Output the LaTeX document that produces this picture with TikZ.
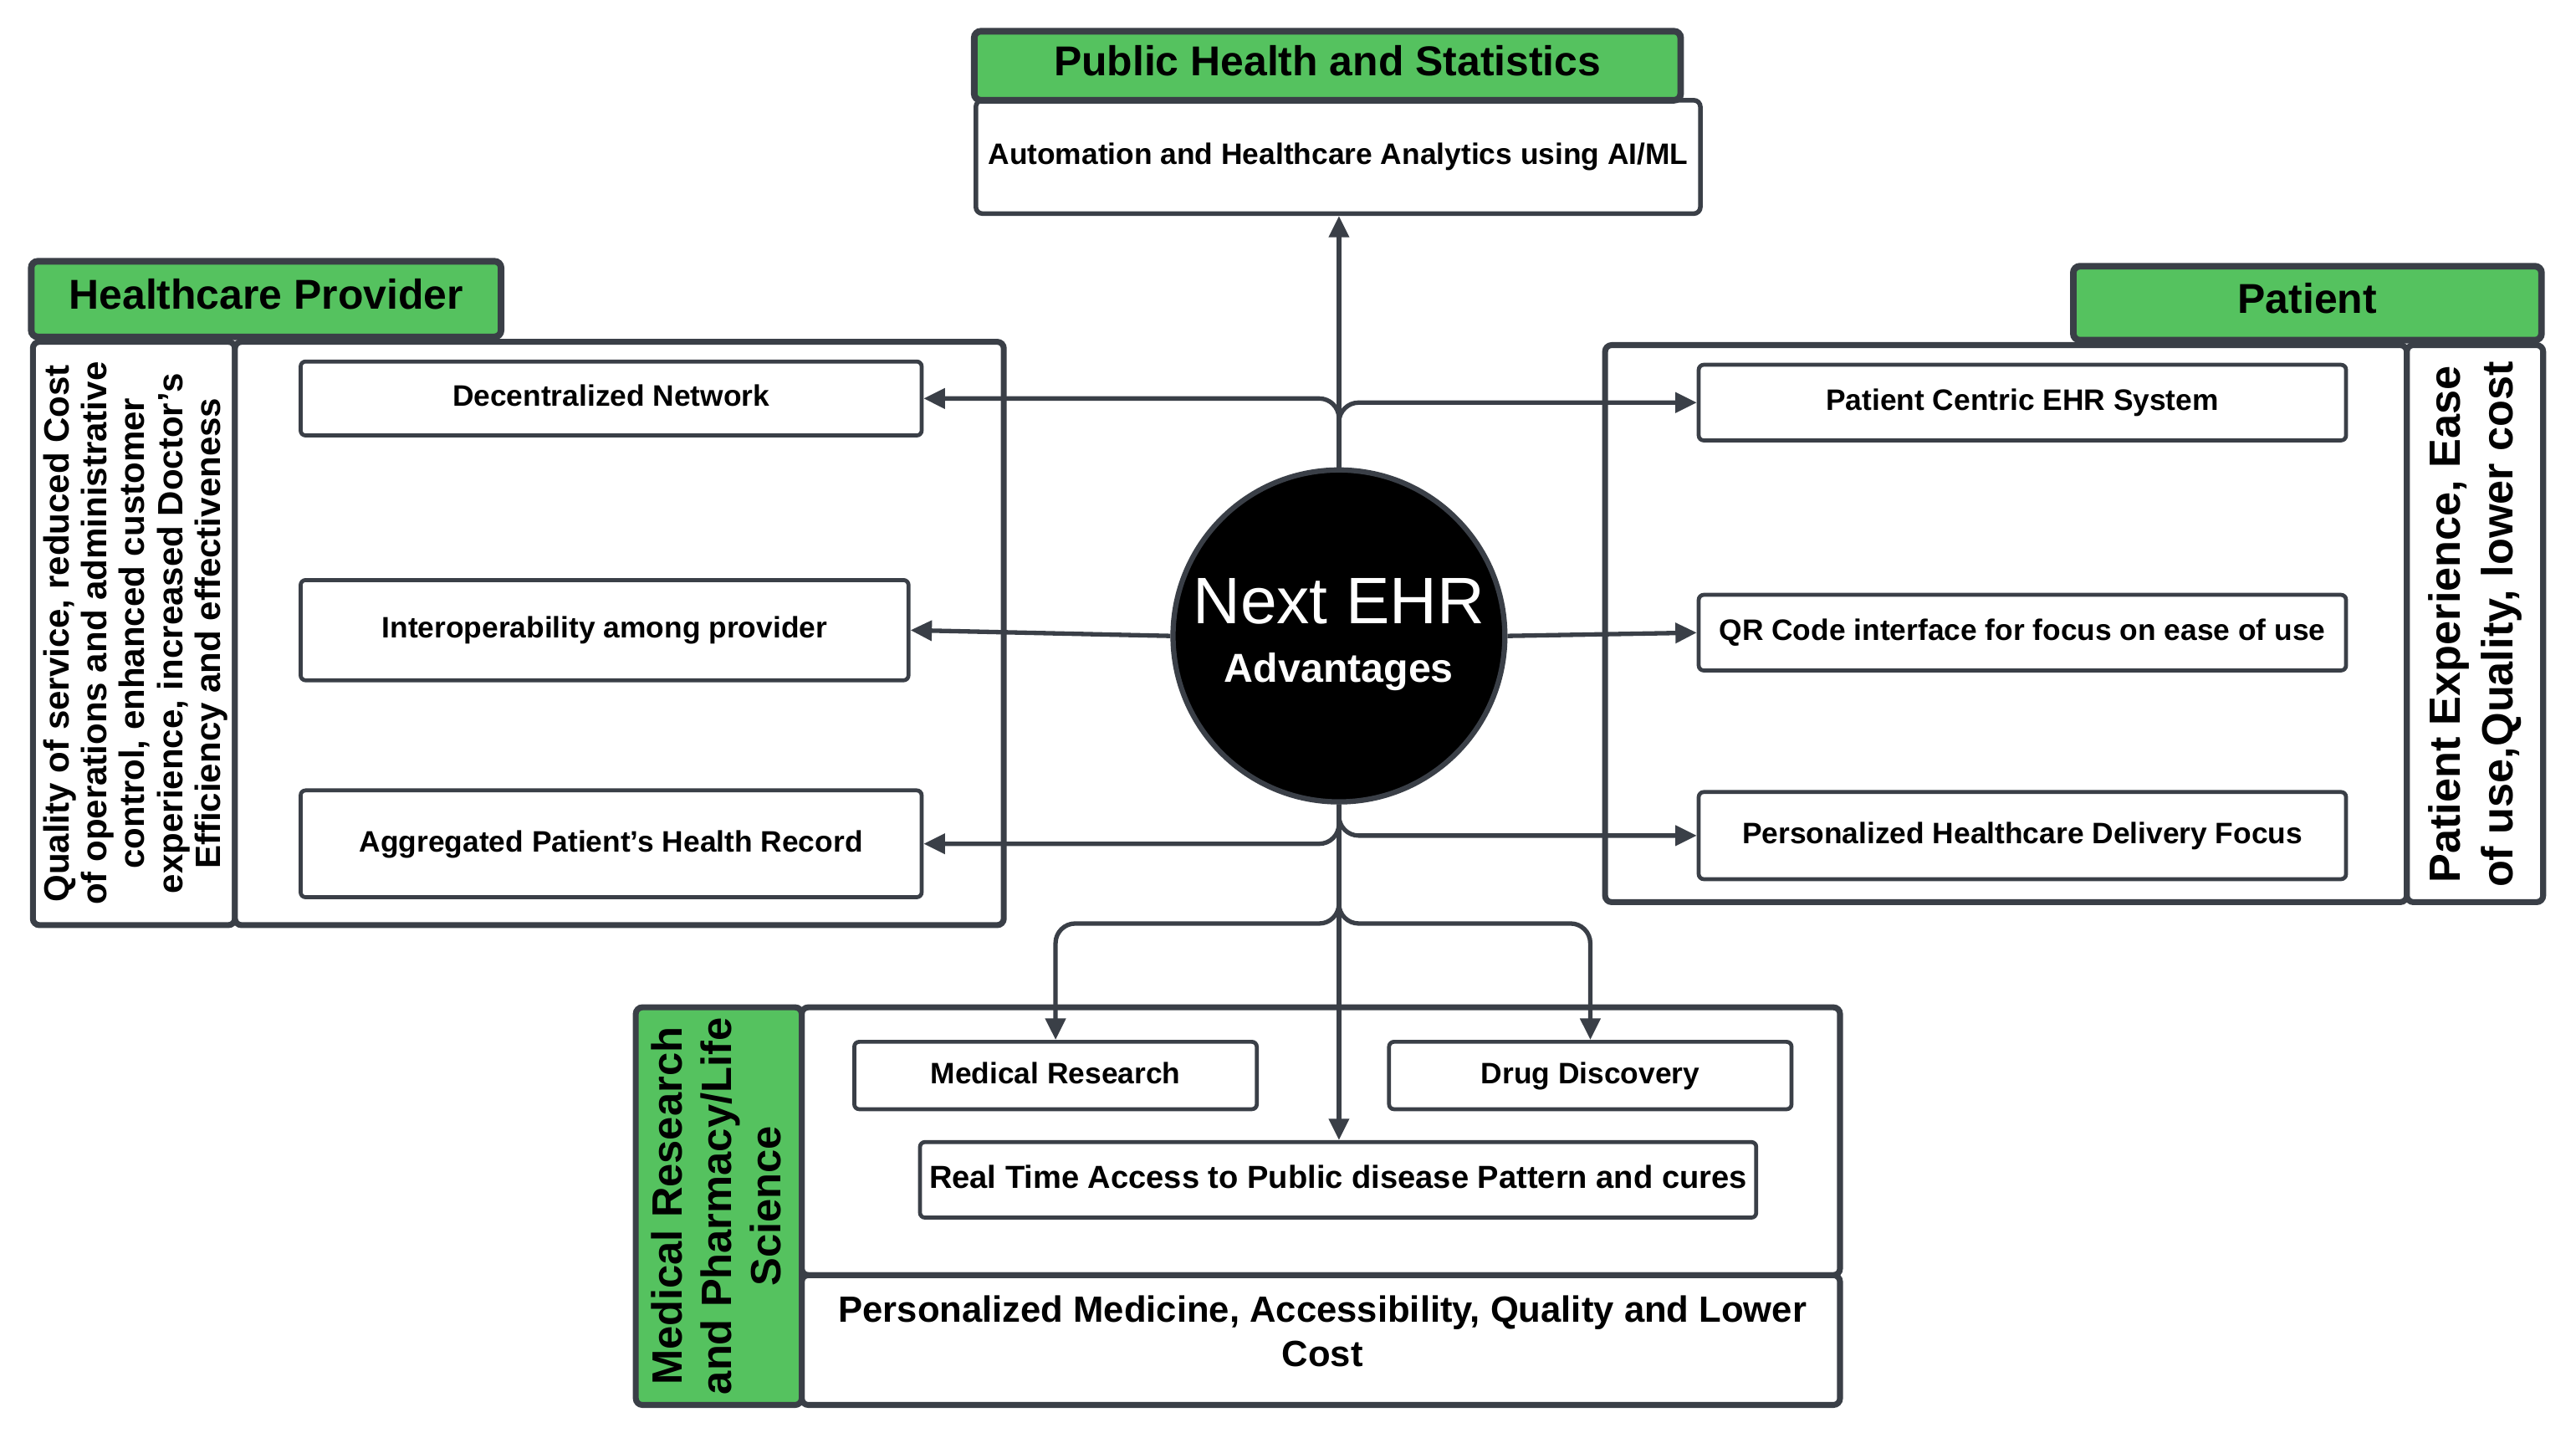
\documentclass[tikz,border=0pt]{standalone}
\usepackage{fontspec}
\setmainfont{Liberation Sans}
\usetikzlibrary{arrows.meta,calc}
\definecolor{edge}{RGB}{58,63,71}
\definecolor{grn}{RGB}{85,194,95}
\tikzset{
  hdr/.style={draw=edge,line width=2pt,fill=grn,rounded corners=2pt,inner sep=0pt,text height=9.2pt,text depth=3pt,font=\bfseries\fontsize{12.7}{14}\selectfont},
  panel/.style={draw=edge,line width=1.8pt,fill=white,rounded corners=2pt,inner sep=0pt},
  item/.style={draw=edge,line width=1.2pt,fill=white,rounded corners=1.5pt,inner sep=0pt,text height=6.8pt,text depth=2pt,font=\bfseries\fontsize{9}{11}\selectfont},
  link/.style={draw=edge,line width=1.35pt,-{Triangle[length=6.5pt,width=6pt]},rounded corners=6pt},
  vtext/.style={rotate=90,align=center,inner sep=0pt}
}
\begin{document}
\begin{tikzpicture}[x=0.5pt,y=-0.5pt]
\useasboundingbox (0,0) rectangle (1568,875);
% top
\node[panel,line width=1.4pt,minimum width=220.5pt,minimum height=34.5pt,font=\bfseries\fontsize{9}{11}\selectfont] (phsbox) at (814.5,95.5) {Automation and Healthcare Analytics using AI/ML};
\node[hdr,minimum width=215pt,minimum height=21pt] (phs) at (808,40) {Public Health and Statistics};
% healthcare provider
\node[panel,minimum width=61.5pt,minimum height=177.5pt] (hpside) at (81.5,385.5) {};
\node[panel,minimum width=234pt,minimum height=177.5pt] (hpmain) at (377,385.5) {};
\node[hdr,minimum width=143pt,minimum height=23pt] (hp) at (162,182) {Healthcare Provider};
\node[vtext,font=\bfseries\fontsize{10.7}{11.5}\selectfont] (hptext) at (82.5,385.5) {Quality of service, reduced Cost\\of operations and administrative\\control, enhanced customer\\experience, increased Doctor’s\\Efficiency and effectiveness};
\node[item,minimum width=189pt,minimum height=22.5pt] (dn) at (372,242.5) {Decentralized Network};
\node[item,minimum width=185pt,minimum height=30.5pt] (io) at (368,383.5) {Interoperability among provider};
\node[item,minimum width=189pt,minimum height=32.5pt] (ag) at (372,513.5) {Aggregated Patient’s Health Record};
% patient
\node[panel,minimum width=244pt,minimum height=169.5pt] (ptmain) at (1221,379.5) {};
\node[panel,minimum width=41.5pt,minimum height=169.5pt] (ptside) at (1506.5,379.5) {};
\node[hdr,minimum width=142.5pt,minimum height=22.5pt] (pt) at (1404.5,184.5) {Patient};
\node[vtext,font=\bfseries\fontsize{13.3}{16}\selectfont] (pttext) at (1506.5,380) {Patient Experience, Ease\\of use,Quality, lower cost};
\node[item,minimum width=197pt,minimum height=23pt] (pc) at (1231,245) {Patient Centric EHR System};
\node[item,minimum width=197pt,minimum height=23pt] (qr) at (1231,385) {QR Code interface for focus on ease of use};
\node[item,minimum width=197pt,minimum height=26.5pt] (phd) at (1231,508.5) {Personalized Healthcare Delivery Focus};
% medical research
\node[panel,minimum width=316pt,minimum height=81.5pt] (mrtop) at (804,694.5) {};
\node[panel,minimum width=316pt,minimum height=39.5pt] (mrbot) at (804,815.5) {};
\node[align=center,inner sep=0pt,font=\bfseries\fontsize{11.1}{13.5}\selectfont] (mrbottext) at (805,810) {Personalized Medicine, Accessibility, Quality and Lower\\Cost};
\node[panel,fill=grn,minimum width=50.5pt,minimum height=121pt] (mrside) at (437.5,734) {};
\node[vtext,font=\bfseries\fontsize{12.9}{15}\selectfont] (mrtext) at (436,734) {Medical Research\\and Pharmacy/Life\\Science};
\node[item,minimum width=122.5pt,minimum height=20.5pt] (med) at (642.5,654.5) {Medical Research};
\node[item,minimum width=122.5pt,minimum height=20.5pt] (drug) at (968,654.5) {Drug Discovery};
\node[item,minimum width=254.5pt,minimum height=23pt,text height=7.3pt,text depth=2.2pt,font=\bfseries\fontsize{9.7}{11}\selectfont] (rt) at (814.5,718) {Real Time Access to Public disease Pattern and cures};
% center
\node[circle,draw=edge,line width=1.6pt,fill=black,minimum size=101pt,inner sep=0pt] (c) at (815,387) {};
\node[text=white,font=\fontsize{20}{22}\selectfont,inner sep=0pt] (next) at (815,366) {Next EHR};
\node[text=white,font=\bfseries\fontsize{12.3}{14}\selectfont,inner sep=0pt] (adv) at (815,409) {Advantages};
\coordinate (split) at (815,562);
% connectors
\draw[link] (c.north) -- (c.north |- phsbox.south);
\draw[link] (c.north) |- (dn.east);
\draw[link] (c.north) |- (pc.west);
\draw[link] (c.west) -- (io.east);
\draw[link] (c.east) -- (qr.west);
\draw[link] (c.south) |- (ag.east);
\draw[link] (c.south) |- (phd.west);
\draw[link] (c.south) -- (c.south |- rt.north);
\draw[link] (c.south) -- (split) -| (med.north);
\draw[link] (c.south) -- (split) -| (drug.north);
\end{tikzpicture}
\end{document}
